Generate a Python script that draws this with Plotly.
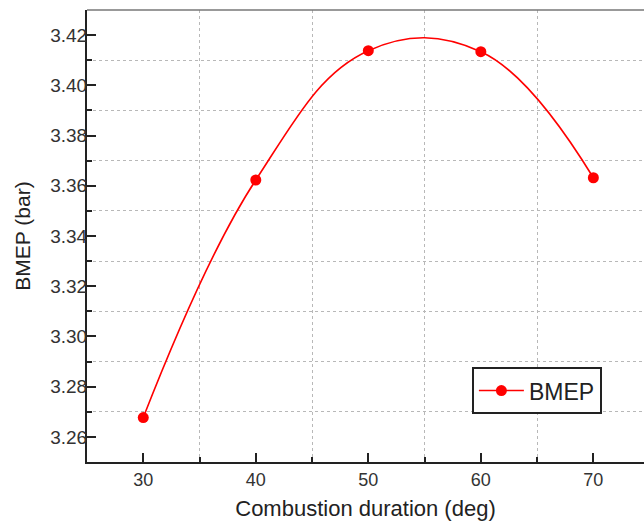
import plotly.graph_objects as go

duration = [30, 40, 50, 60, 70]
bmep = [3.2677, 3.3623, 3.4138, 3.4134, 3.3632]
x_ticks = [30, 40, 50, 60, 70]
y_ticks = [3.26, 3.28, 3.30, 3.32, 3.34, 3.36, 3.38, 3.40, 3.42]

fig = go.Figure()
fig.add_trace(go.Scatter(
    x=duration, y=bmep, mode="lines+markers", name="BMEP",
    line=dict(color="#ff0000", width=1.6, shape="spline", smoothing=1.15),
    marker=dict(color="#ff0000", size=11, symbol="circle"),
))

font_family = "Liberation Sans, Arial, sans-serif"
fig.update_layout(
    width=644, height=522,
    margin=dict(l=87, r=0, t=10, b=60),
    paper_bgcolor="white", plot_bgcolor="white",
    font=dict(family=font_family, color="#333333", size=18),
    showlegend=True,
    legend=dict(x=0.691, y=0.21, xanchor="left", yanchor="top",
                bordercolor="#222222", borderwidth=2, bgcolor="white",
                font=dict(size=23, color="#222222"),
                itemwidth=45, tracegroupgap=0),
)
fig.update_xaxes(
    range=[25, 74.5], tickvals=x_ticks, ticktext=[str(v) for v in x_ticks],
    ticks="inside", ticklen=9, tickwidth=2, tickcolor="#222222",
    showline=True, linecolor="#222222", linewidth=2,
    showgrid=False, zeroline=False,
    minor=dict(tickvals=[35, 45, 55, 65], ticks="inside", ticklen=5, tickwidth=2,
               tickcolor="#222222", showgrid=True, gridcolor="#b8b8b8",
               griddash="dot", gridwidth=1),
    title=dict(text="Combustion duration (deg)", font=dict(size=22, color="#222222"), standoff=12),
    tickfont=dict(size=18),
)
fig.update_yaxes(
    range=[3.25, 3.43], tickvals=y_ticks, ticktext=["%.2f" % v for v in y_ticks],
    ticks="inside", ticklen=9, tickwidth=2, tickcolor="#222222",
    showline=True, linecolor="#222222", linewidth=2,
    showgrid=False, zeroline=False,
    minor=dict(tickvals=[3.27, 3.29, 3.31, 3.33, 3.35, 3.37, 3.39, 3.41], ticks="inside",
               ticklen=5, tickwidth=2, tickcolor="#222222", showgrid=True,
               gridcolor="#b8b8b8", griddash="dot", gridwidth=1),
    title=dict(text="BMEP (bar)", font=dict(size=21, color="#222222"), standoff=14),
    tickfont=dict(size=19),
    ticklabelstandoff=-6,
)
fig.add_shape(type="line", xref="paper", yref="paper", x0=0, x1=1, y0=1, y1=1,
              line=dict(color="#777777", width=1.5))

fig.write_html("out.html")
